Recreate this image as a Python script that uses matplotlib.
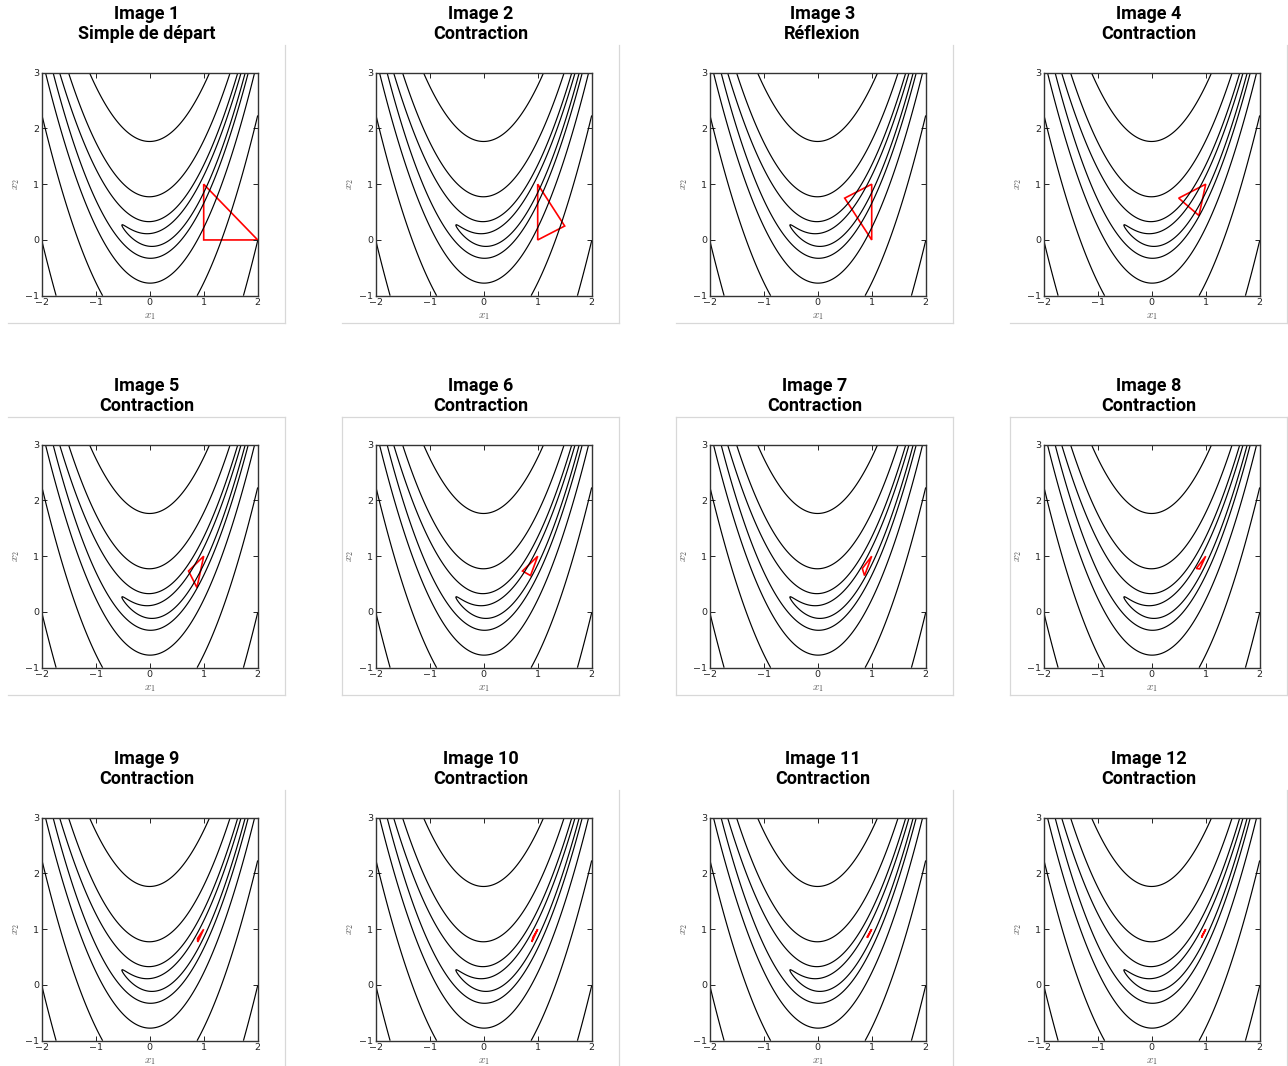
import numpy as np
import matplotlib.pyplot as plt
from matplotlib.lines import Line2D

plt.rcParams["mathtext.fontset"] = "cm"

W, H = 1288, 1066

titles = ["Image 1\nSimple de départ", "Image 2\nContraction", "Image 3\nRéflexion",
          "Image 4\nContraction", "Image 5\nContraction", "Image 6\nContraction",
          "Image 7\nContraction", "Image 8\nContraction", "Image 9\nContraction",
          "Image 10\nContraction", "Image 11\nContraction", "Image 12\nContraction"]

# simplex vertices for each image
simplex_x = [
    [1.0, 1.0, 2.0],
    [1.0, 1.0, 1.5],
    [1.0, 1.0, 0.5],
    [1.0, 0.5, 0.875],
    [1.0, 0.8750, 0.7188],
    [1.0, 0.7188, 0.8672],
    [1.0, 0.8672, 0.8262],
    [1.0, 0.8262, 0.8901],
    [1.0, 0.8901, 0.8856],
    [1.0, 0.8901, 0.9153],
    [1.0, 0.9153, 0.9239],
    [1.0, 0.9239, 0.9386],
]
simplex_y = [
    [1.0, 0.0, 0.0],
    [1.0, 0.0, 0.25],
    [1.0, 0.0, 0.75],
    [1.0, 0.75, 0.4375],
    [1.0, 0.4375, 0.7344],
    [1.0, 0.7344, 0.6523],
    [1.0, 0.6523, 0.7803],
    [1.0, 0.7803, 0.7712],
    [1.0, 0.7712, 0.8329],
    [1.0, 0.7712, 0.8593],
    [1.0, 0.8593, 0.8504],
    [1.0, 0.8504, 0.8923],
]

levels = [2.3, 11.8, 61, 313, 1610]
x_ticks = [-2, -1, 0, 1, 2]
y_ticks = [-1, 0, 1, 2, 3]

# panel layout (pixels)
col_left = [8, 342, 676, 1010]
row_top = [45, 417, 790]
title_dx = [0, 0, 8, 0, 0, 0, 0, 0, 0, 0, 8, 0]
PW, PH = 277, 278
frame_col = "#d8d8d8"


def rosen(x, y):
    return (1 - x) ** 2 + 100 * (y - x ** 2) ** 2


gx = np.linspace(-2, 2, 500)
gy = np.linspace(-1, 3, 500)
X, Y = np.meshgrid(gx, gy)
Z = rosen(X, Y)

fig = plt.figure(figsize=(W / 100, H / 100), dpi=100)


def fig_line(x0, y0, x1, y1):
    fig.add_artist(Line2D([x0 / W, x1 / W], [1 - y0 / H, 1 - y1 / H],
                          transform=fig.transFigure, color=frame_col, lw=0.9))


for i in range(12):
    r, c = divmod(i, 4)
    left, top = col_left[c], row_top[r]

    # light frame around each image
    fig_line(left + PW, top, left + PW, min(top + PH, H))
    if r < 2:
        fig_line(left, top + PH, left + PW, top + PH)
    if r == 1:
        fig_line(left, top, left + PW, top)
        if c > 0:
            fig_line(left, top, left, top + PH)

    cx = left + PW / 2 + title_dx[i]
    l1, l2 = titles[i].split("\n")
    fig.text(cx / W, 1 - (top - 31) / H, l1, ha="center", va="center",
             fontsize=13, fontweight="bold", family="Roboto")
    fig.text(cx / W, 1 - (top - 11) / H, l2, ha="center", va="center",
             fontsize=13, fontweight="bold", family="Roboto")

    ax = fig.add_axes([(left + 33.7) / W, 1 - (top + 27.7 + 223) / H, 216 / W, 223 / H])
    ax.contour(X, Y, Z, levels=levels, colors="black", linewidths=0.85)
    ax.fill(simplex_x[i], simplex_y[i], fill=False, edgecolor="red", lw=1.2)
    ax.set_xlim(-2, 2)
    ax.set_ylim(-1, 3)
    ax.set_xticks(x_ticks)
    ax.set_yticks(y_ticks)
    ax.tick_params(direction="in", top=True, right=True, length=3.5, width=0.7,
                   labelsize=6.8, pad=2, colors="#222222")
    for s in ax.spines.values():
        s.set_linewidth(1.0)
        s.set_color("#333333")
    ax.set_xlabel(r"$x_1$", fontsize=8, color="#555555", labelpad=2.5)
    ax.set_ylabel(r"$x_2$", fontsize=8, color="#555555", labelpad=2)

fig.savefig("out.png", dpi=100)
